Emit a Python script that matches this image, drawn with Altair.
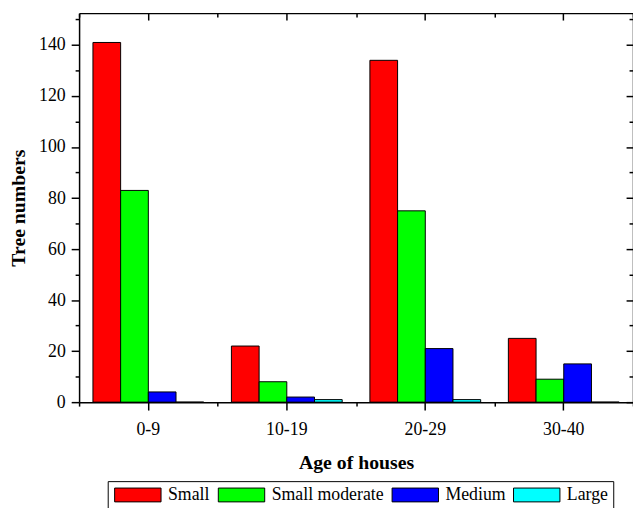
import altair as alt
import pandas as pd

ages = ["0-9", "10-19", "20-29", "30-40"]
sizes = ["Small", "Small moderate", "Medium", "Large"]
small = [141, 22, 134, 25]
small_moderate = [83, 8, 75, 9]
medium = [4, 2, 21, 15]
large = [0, 1, 1, 0]
colors = ["#FF0000", "#00FF00", "#0000FF", "#00FFFF"]
y_major = [0, 20, 40, 60, 80, 100, 120, 140]
y_minor = [10, 30, 50, 70, 90, 110, 130, 150]
y_max = 152.5

rows = []
for i, a in enumerate(ages):
    for s, vals in zip(sizes, [small, small_moderate, medium, large]):
        rows.append({"age": a, "size": s, "count": vals[i]})
df = pd.DataFrame(rows)

W, H = 561, 394
FONT = "'Liberation Serif', 'Times New Roman', 'DejaVu Serif', serif"
LW = 1.5

xscale = alt.Scale(domain=ages, paddingInner=0, paddingOuter=0)
yscale = alt.Scale(domain=[0, y_max], nice=False, zero=True)
xoff = alt.XOffset("size:N", sort=sizes,
                   scale=alt.Scale(domain=sizes, paddingInner=0, paddingOuter=0.5))


def xenc(axis):
    return alt.X("age:N", sort=ages, scale=xscale, axis=axis)


def yenc(axis):
    return alt.Y("count:Q", scale=yscale, axis=axis)


common = dict(domainColor="black", domainWidth=LW, tickColor="black",
              tickWidth=LW, grid=False, labelFont=FONT, titleFont=FONT, zindex=1)

# main layer: bottom and left axes with labels
x_main = alt.Axis(orient="bottom", title="Age of houses", labelAngle=0,
                  labelFontSize=18, labelColor="black", labelPadding=11,
                  tickSize=8, titleFontSize=20, titleFontWeight="bold",
                  titleColor="black", titleX=W / 2, titleY=67,
                  titleBaseline="alphabetic", titleAlign="center", **common)
y_main = alt.Axis(orient="left", title="Tree numbers", values=y_major,
                  labelFontSize=18, labelColor="black", labelPadding=6,
                  tickSize=8, titleFontSize=20, titleFontWeight="bold",
                  titleColor="black", titleAngle=270, titleX=-61, titleY=H / 2,
                  titleBaseline="middle", titleAlign="center", **common)

legend = alt.Legend(orient="none", legendX=29, legendY=474, direction="horizontal",
                    columns=4, title=None,
                    symbolType="M-1,-1L5.714,-1L5.714,1L-1,1Z", symbolSize=196,
                    symbolStrokeColor="black", symbolStrokeWidth=1, symbolOpacity=1,
                    labelOffset=38, columnPadding=6, padding=5,
                    strokeColor="black", fillColor="white",
                    labelFont=FONT, labelFontSize=18, labelColor="black", labelLimit=0)

bars = alt.Chart(df).mark_bar(stroke="black", strokeWidth=1, opacity=1).encode(
    x=xenc(x_main),
    xOffset=xoff,
    y=yenc(y_main),
    color=alt.Color("size:N", sort=sizes,
                    scale=alt.Scale(domain=sizes, range=colors), legend=legend),
)

# top and right frame: major ticks inward
x_top = alt.Axis(orient="top", title="", labels=False, tickSize={"expr": "-7"}, **common)
y_right = alt.Axis(orient="right", title="", labels=False, values=y_major,
                   tickSize={"expr": "-7"}, **common)
layer2 = alt.Chart(df).mark_bar(opacity=0).encode(
    x=xenc(x_top), xOffset=xoff, y=yenc(y_right))

# minor ticks bottom/left (outward)
x_bmin = alt.Axis(orient="bottom", title="", labels=False, domain=False,
                  tickBand="extent", tickSize=4, **common)
y_lmin = alt.Axis(orient="left", title="", labels=False, domain=False,
                  values=y_minor, tickSize=4, **common)
layer3 = alt.Chart(df).mark_bar(opacity=0).encode(
    x=xenc(x_bmin), xOffset=xoff, y=yenc(y_lmin))

# minor ticks top/right (inward)
x_tmin = alt.Axis(orient="top", title="", labels=False, domain=False,
                  tickBand="extent", tickSize={"expr": "-4"}, **common)
y_rmin = alt.Axis(orient="right", title="", labels=False, domain=False,
                  values=y_minor, tickSize={"expr": "-4"}, **common)
layer4 = alt.Chart(df).mark_bar(opacity=0).encode(
    x=xenc(x_tmin), xOffset=xoff, y=yenc(y_rmin))

chart = alt.layer(bars, layer2, layer3, layer4).properties(
    width=W, height=H,
    autosize="none",
    padding={"left": 72, "top": 2, "right": 0, "bottom": 104},
    background="white",
).configure(font=FONT).configure_view(strokeWidth=0).configure_axis(
    labelFont=FONT, titleFont=FONT
).configure_legend(labelFont=FONT)

chart.save("out.html", embed_options={"renderer": "svg", "actions": False})
